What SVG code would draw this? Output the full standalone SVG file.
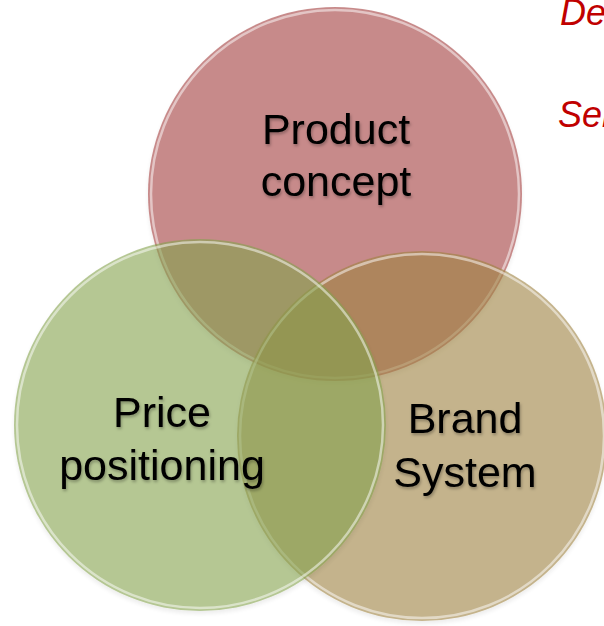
<svg xmlns="http://www.w3.org/2000/svg" width="604" height="626" viewBox="0 0 604 626">
<defs>
<filter id="tshadow" x="-20%" y="-30%" width="140%" height="160%">
<feDropShadow dx="1" dy="2" stdDeviation="1.5" flood-color="#000" flood-opacity="0.3"/>
</filter>
<filter id="cshadow" x="-10%" y="-10%" width="120%" height="120%">
<feDropShadow dx="0" dy="3" stdDeviation="2" flood-color="#000" flood-opacity="0.12"/>
</filter>
</defs>
<style>
.c{opacity:0.6}
.rim{fill:none;stroke:#ffffff;stroke-width:2.5;stroke-opacity:0.5}
.lbl{font-family:"Liberation Sans",Arial,sans-serif;font-size:43px;fill:#000;text-anchor:middle;filter:url(#tshadow)}
.red{font-family:"Liberation Sans",Arial,sans-serif;font-size:36px;font-style:italic;fill:#C00000}
</style>
<rect width="604" height="626" fill="#ffffff"/>
<g id="node-product">
<circle class="c" cx="335" cy="194" r="187" fill="#A33E3E" filter="url(#cshadow)"/>
<circle class="rim" cx="335" cy="194" r="184"/>
</g>
<g id="node-brand">
<circle class="c" cx="422" cy="436" r="185" fill="#9E823F" filter="url(#cshadow)"/>
<circle class="rim" cx="422" cy="436" r="182"/>
</g>
<g id="node-price">
<circle class="c" cx="200" cy="425" r="186" fill="#84A24E" filter="url(#cshadow)"/>
<circle class="rim" cx="200" cy="425" r="183"/>
</g>
<g id="connectors"></g>
<g id="labels">
<text class="lbl" x="336" y="144">Product</text>
<text class="lbl" x="336" y="196">concept</text>
<text class="lbl" x="162" y="427">Price</text>
<text class="lbl" x="162" y="480">positioning</text>
<text class="lbl" x="465" y="433">Brand</text>
<text class="lbl" x="465" y="487">System</text>
</g>
<g id="side-text">
<text class="red" x="560" y="25">De</text>
<text class="red" x="558" y="127">Sel</text>
</g>
</svg>
